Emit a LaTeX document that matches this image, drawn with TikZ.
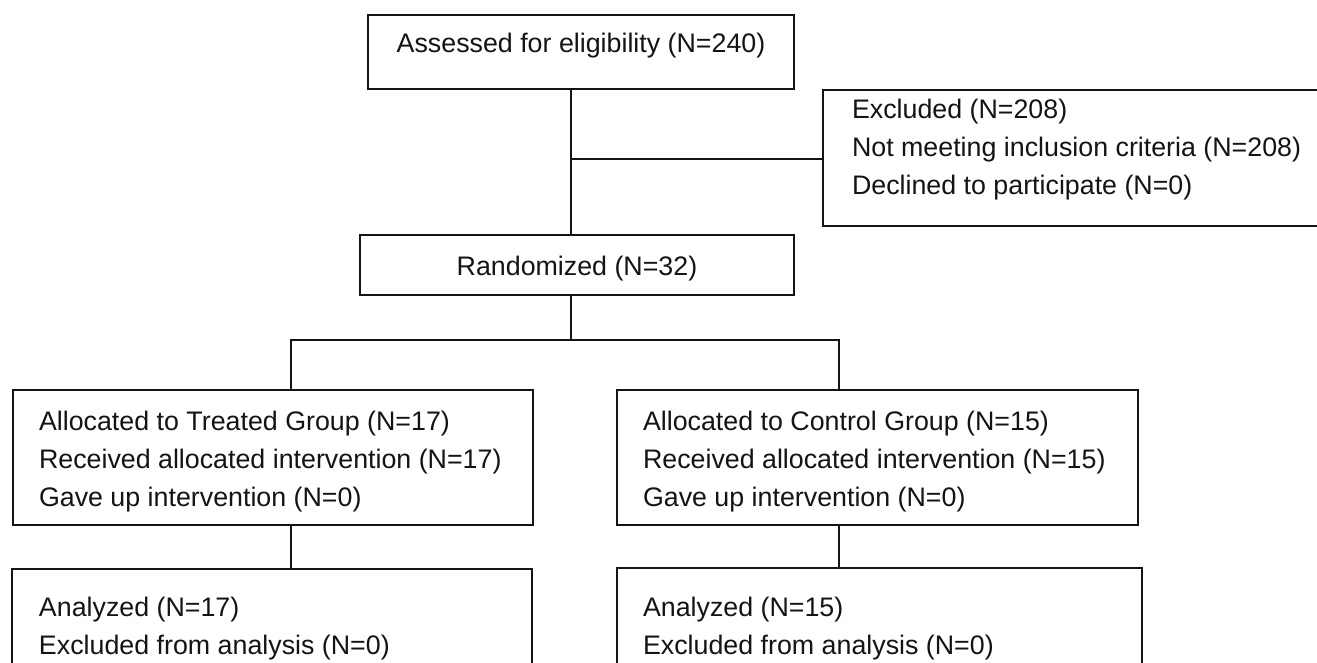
\documentclass[tikz,border=0pt]{standalone}
\usepackage{fontspec}
\setmainfont{Liberation Sans}
\newcommand{\bxt}[5]{\parbox[c][#2pt][t]{#1pt}{\leftskip=#4pt\parindent=0pt\vspace*{#3pt}#5\par}}
\newcommand{\bxc}[4]{\parbox[c][#2pt][t]{#1pt}{\centering\parindent=0pt\vspace*{#3pt}#4\par}}
\definecolor{ink}{HTML}{141414}
\begin{document}
\begin{tikzpicture}[x=1pt,y=-1pt,
  box/.style={draw=ink,line width=2pt,inner sep=0pt,outer sep=0pt,anchor=north west,
    font={\fontsize{26.8pt}{38pt}\selectfont},text=ink},
  conn/.style={draw=ink,line width=2pt}]
\useasboundingbox (0,0) rectangle (1317,663);
\clip (0,0) rectangle (1317,663);
\fill[white] (0,0) rectangle (1317,663);
\node[box] (top) at (368,15) {\bxc{426}{74}{11.4}{\strut Assessed for eligibility (N=240)}};
\node[box] (excl) at (823,90) {\bxt{600}{136}{2.4}{29}{\strut Excluded (N=208)\\\strut Not meeting inclusion criteria (N=208)\\\strut Declined to participate (N=0)}};
\node[box] (rand) at (360,235) {\bxc{434}{60}{13.4}{\strut Randomized (N=32)}};
\node[box] (treat) at (13,390) {\bxt{520}{135}{13.4}{26}{\strut Allocated to Treated Group (N=17)\\\strut Received allocated intervention (N=17)\\\strut Gave up intervention (N=0)}};
\node[box] (ctrl) at (617,390) {\bxt{521}{135}{13.4}{26}{\strut Allocated to Control Group (N=15)\\\strut Received allocated intervention (N=15)\\\strut Gave up intervention (N=0)}};
\node[box] (ana1) at (12,569) {\bxt{520}{150}{20.4}{27}{\strut Analyzed (N=17)\\\strut Excluded from analysis (N=0)}};
\node[box] (ana2) at (617,568) {\bxt{525}{150}{21.4}{26}{\strut Analyzed (N=15)\\\strut Excluded from analysis (N=0)}};
\coordinate (j1) at (571,159);
\coordinate (j2) at (571,340);
\coordinate (bl) at (291,340);
\coordinate (br) at (839,340);
\draw[conn] (top.south -| j1) -- (rand.north -| j1);
\draw[conn] (j1) -- (j1 -| excl.west);
\draw[conn] (rand.south -| j2) -- (j2);
\draw[conn] (treat.north -| bl) -- (bl) -- (br) -- (ctrl.north -| br);
\draw[conn] (treat.south -| bl) -- (ana1.north -| bl);
\draw[conn] (ctrl.south -| br) -- (ana2.north -| br);
\end{tikzpicture}
\end{document}
